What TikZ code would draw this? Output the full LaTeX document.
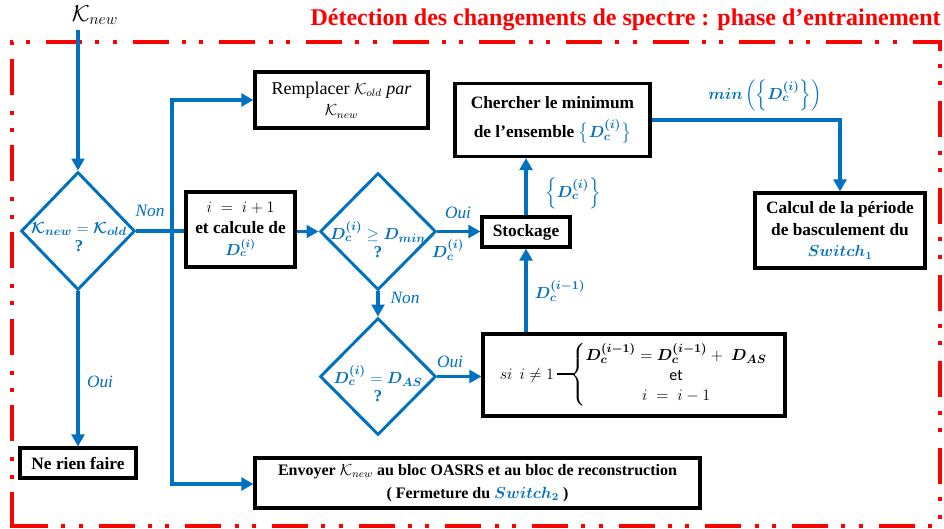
\documentclass[tikz,border=0pt]{standalone}
\usepackage{amsmath,amssymb}
\usepackage{bm}
\usepackage{fontspec}
\setmainfont{Liberation Serif}
\newfontfamily\calib{Carlito}
\usetikzlibrary{shapes.geometric,arrows.meta,calc}
\definecolor{myblue}{RGB}{0,112,192}
\definecolor{myred}{RGB}{255,0,0}
\newcommand{\Dci}{\bm{D_c^{(i)}}}
\begin{document}
\begin{tikzpicture}[x=0.75pt,y=-0.75pt,
 box/.style={draw=black,line width=2.3pt,align=center,inner sep=0pt,fill=white,font=\fontsize{13}{16}\selectfont\bfseries},
 dia/.style={draw=myblue,line width=2.2pt,diamond,inner sep=0pt},
 dtext/.style={text=myblue,align=center,font=\fontsize{12.5}{16}\selectfont\bfseries},
 arr/.style={draw=myblue,line width=2.6pt,-{Triangle[length=9pt,width=9.5pt]}},
 ln/.style={draw=myblue,line width=2.6pt},
 lab/.style={text=myblue,font=\fontsize{13}{15}\selectfont\itshape,inner sep=1pt}]
\useasboundingbox (0,0) rectangle (944,528);
\fill[white] (0,0) rectangle (944,528);
% red frame
\draw[myred,line width=3pt,dash pattern=on 27pt off 10pt on 3pt off 10pt on 3pt off 12pt] (12,528) -- (12,42) -- (940,42) -- (940,528);
\draw[myred,line width=3pt,dash pattern=on 27pt off 10pt on 3pt off 10pt on 3pt off 12pt] (12,526) -- (940,526);
\node[text=myred,font=\fontsize{18}{20}\selectfont\bfseries,anchor=east,inner sep=0pt] (title) at (941,20) {Détection des changements de spectre : phase d’entrainement};
% input
\node[font=\fontsize{17}{19}\selectfont,inner sep=1pt] (kn) at (95,15) {$\mathcal{K}_{new}$};
\coordinate (kin) at (78,30);
% diamonds
\node[dia,minimum width=85.5pt,minimum height=88.5pt] (d1) at (78,231) {};
\node[dtext] (t1) at (79,237) {$\bm{\mathcal{K}_{new}} = \bm{\mathcal{K}_{old}}$\\[-2pt] ?};
\node[dia,minimum width=87pt,minimum height=87.75pt] (d2) at (378,231.5) {};
\node[dtext] (t2) at (378,240) {$\Dci \geq \bm{D_{min}}$\\[-2pt] ?};
\node[dia,minimum width=87pt,minimum height=87.75pt] (d3) at (378,376.5) {};
\node[dtext] (t3) at (378,384) {$\Dci = \bm{D_{AS}}$\\[-2pt] ?};
% boxes
\node[box,minimum width=129.75pt,minimum height=42pt,font=\fontsize{13.5}{16}\selectfont] (rem) at (341.5,100) {Remplacer {\large$\mathcal{K}_{old}$} \textit{par}\\ {\large$\mathcal{K}_{new}$}};
\node[box,minimum width=81.75pt,minimum height=56.25pt] (b2) at (240.5,229.5) {{\large$i\;=\;i+1$}\\ et calcule de\\ \textcolor{myblue}{\large$\Dci$}};
\node[box,minimum width=87pt,minimum height=22.5pt] (ne) at (78,463) {Ne rien faire};
\node[box,minimum width=66pt,minimum height=22.5pt] (st) at (526,232) {Stockage};
\node[box,minimum width=146.25pt,minimum height=54.75pt,font=\fontsize{13}{22}\selectfont\bfseries] (ch) at (552.5,120) {Chercher le minimum\\ de l’ensemble \textcolor{myblue}{$\bigl\{\Dci\bigr\}$}};
\node[box,minimum width=127.5pt,minimum height=56.25pt] (ca) at (840,230.5) {Calcul de la période\\ de basculement du\\ \textcolor{myblue}{\large$\bm{Switch_1}$}};
\node[box,minimum width=226.5pt,minimum height=61.5pt,font=\fontsize{13}{15}\selectfont] (si) at (634,375) {$si\;\, i \neq 1$\,\rule[0.25em]{14pt}{1.6pt}$\!\!\left\{\begin{array}{@{}c@{}}\bm{D_c^{(i-1)}} = \bm{D_c^{(i-1)}} +\; \bm{D_{AS}}\\ \text{\calib\fontsize{12}{13}\selectfont et}\\ i\;=\;i-1\end{array}\right.$};
\node[box,minimum width=333.75pt,minimum height=37.5pt,font=\fontsize{12}{17}\selectfont\bfseries] (en) at (477.5,483) {Envoyer {\large$\mathcal{K}_{new}$} au bloc OASRS et au bloc de reconstruction\\ ( Fermeture du \textcolor{myblue}{\large$\bm{Switch_2}$} )};
% connectors
\draw[arr] (kin) -- (d1.north);
\draw[ln] (d1.east) -- (d1.east -| b2.west);
\coordinate (jt) at (172,100);
\coordinate (jb) at (172,484);
\draw[arr] (jb) -- (jt) -- (rem.west);
\draw[arr] (jt) -- (jb) -- (en.west |- jb);
\draw[arr] (d1.south) -- (ne.north);
\draw[arr] (b2.east |- d2.west) -- (d2.west);
\draw[arr] (d2.east) -- (d2.east -| st.west);
\draw[arr] (st.north) -- (st.north |- ch.south);
\draw[arr] (ch.east) -| (ca.north);
\draw[arr] (d2.south) -- (d3.north);
\draw[arr] (d3.east) -- (d3.east -| si.west);
\draw[arr] (st.south |- si.north) -- (st.south);
% labels
\node[lab] (l1) at (150,211) {Non};
\node[lab] (l2) at (100,382) {Oui};
\node[lab] (l3) at (458,213) {Oui};
\node[lab] (l4) at (448,250) {$\Dci$};
\node[lab] (l5) at (573,193) {$\left\{\Dci\right\}$};
\node[lab] (l6) at (405,298) {Non};
\node[lab] (l7) at (450,362) {Oui};
\node[lab] (l8) at (560,291) {$\bm{D_c^{(i-1)}}$};
\node[lab] (l9) at (765,95) {$\bm{min}\left(\left\{\Dci\right\}\right)$};
\end{tikzpicture}
\end{document}
